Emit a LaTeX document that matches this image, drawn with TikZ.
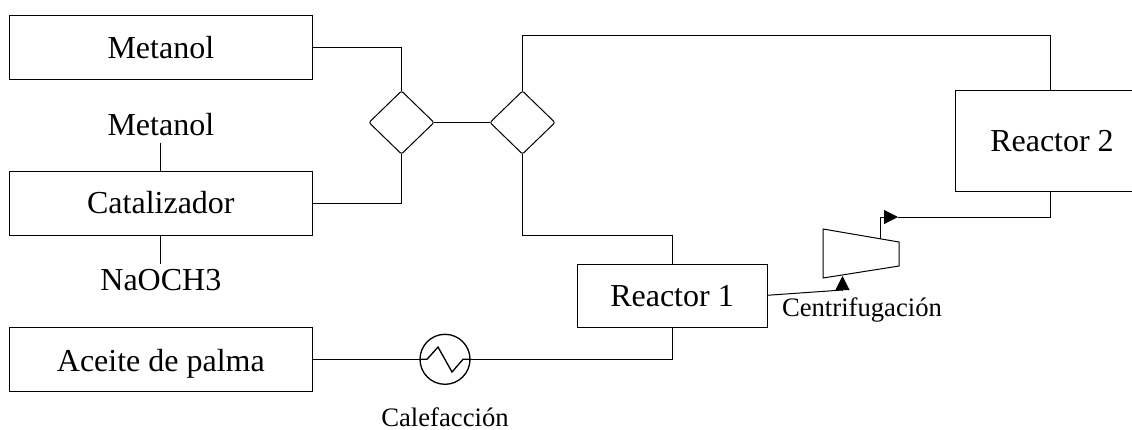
\documentclass[tikz,border=0pt]{standalone}
\usepackage{fontspec}
\setmainfont{Liberation Serif}
\usetikzlibrary{arrows.meta,shapes.geometric,calc}
\tikzset{
  x=0.75pt,y=-0.75pt,
  wire/.style={draw=black,line width=0.75pt,line join=miter},
  boxn/.style={draw=black,line width=0.75pt,outer sep=0pt,minimum width=227.75pt,minimum height=48pt,inner sep=0pt,text height=16pt,text depth=0pt,font=\fontsize{24}{28}\selectfont},
  lab/.style={inner sep=0pt,anchor=base,font=\fontsize{24}{28}\selectfont},
  smalllab/.style={inner sep=0pt,outer sep=0pt,anchor=base,font=\fontsize{20}{22}\selectfont},
  mixer/.style={diamond,draw=black,line width=0.75pt,outer sep=0pt,rounded corners=1.5pt,minimum width=48.75pt,minimum height=47.25pt,inner sep=0pt,aspect=1.03},
  heater/.style={circle,draw=black,line width=1pt,outer sep=0pt,minimum size=37.5pt,inner sep=0pt},
  tip/.style={-{Triangle[length=10.5pt,width=10.5pt]}},
}
\begin{document}
\begin{tikzpicture}
\useasboundingbox (0,0) rectangle (1132,429);
\node[boxn] (met) at (160.85,47.5) {Metanol};
\node[boxn] (cat) at (160.85,203.3) {Catalizador};
\node[boxn,text height=18pt] (ace) at (160.85,359.3) {Aceite de palma};
\node[boxn,minimum width=142.5pt,minimum height=47.25pt] (r1) at (672,295.5) {Reactor 1};
\node[boxn,minimum width=142.2pt,minimum height=76pt] (r2) at (1050.5,141) {\hspace*{2.25pt}Reactor 2};
\node[lab,outer ysep=6pt] (tmet) at (160.85,135) {Metanol};
\node[lab,outer ysep=3.75pt] (tna) at (160.85,290) {NaOCH3};
\node[mixer] (d1) at (401.5,122.5) {};
\node[mixer] (d2) at (522.5,122.5) {};
\node[heater] (hx) at (445,359.3) {};
\node[smalllab] (tcal) at (445,426) {Calefacción};
\node[smalllab] (tcen) at (862,316) {Centrifugación};
\coordinate (t1) at (823,229);
\coordinate (t2) at (899,242);
\coordinate (t3) at (899,266);
\coordinate (t4) at (823,278);
\draw[wire] (t1) -- (t2) -- (t3) -- (t4) -- cycle;
\coordinate (cin) at (842.5,276);
\coordinate (cinb) at (842.5,290);
\coordinate (cout) at (880,239);
\coordinate (atip) at (898,217);
\coordinate (r1out) at (767,295.3);
\draw[wire] (met.east) -| (d1.north);
\draw[wire] (cat.east) -| (d1.south);
\draw[wire] (d1.east) -- (d2.west);
\draw[wire] (d2.north) |- (r2.north |- 0,35) -- (r2.north);
\draw[wire] (d2.south) |- (r1.north |- 0,235) -- (r1.north);
\draw[wire] (ace.east) -- (hx.west);
\draw[wire] (hx.east) -| (r1.south);
\draw[wire] (tmet.south) -- (tmet.south |- cat.north);
\draw[wire] (tna.north |- cat.south) -- (tna.north);
\draw[wire,line width=1pt] (hx.west) -- (427,359.3) -- (438,347) -- (452,372) -- (463,359.3) -- (hx.east);
\draw[wire] (r1out) -- (cinb);
\draw[wire,tip] (cinb) -- (cin);
\draw[wire,tip] (cout) |- (atip);
\draw[wire] (atip) -| (r2.south);
\end{tikzpicture}
\end{document}
